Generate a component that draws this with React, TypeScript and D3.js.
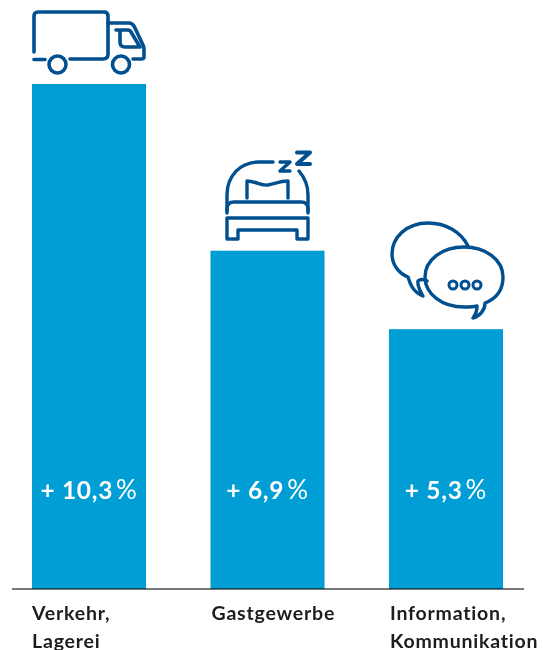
import React from "react";
import * as d3 from "d3";

const categories = ["Verkehr", "Gastgewerbe", "Information"];
const values = [10.3, 6.9, 5.3];
const valueLabels = ["+ 10,3", "+ 6,9", "+ 5,3"];
const categoryLines = [["Verkehr,", "Lagerei"], ["Gastgewerbe"], ["Information,", "Kommunikation"]];

const BAR = "#009ed5";
const ICON = "#004f8f";
const FONT = "Lato, 'Open Sans', sans-serif";

const x = d3.scaleBand<string>().domain(categories).range([32, 503]).paddingInner(0.361);
const y = d3.scaleLinear().domain([0, 10.3]).range([589, 84]);

function Truck() {
  return (
    <g fill="none" stroke={ICON} strokeWidth={3.6} strokeLinecap="round" strokeLinejoin="round">
      <path d="M34 52V16q0-4 4-4h66q4 0 4 4v38q0 5-5 5H70" />
      <path d="M34 59.500H45" />
      <path d="M108 23h21q3 0 5 3l9 19q1 2 1 5v7q0 2-3 2h-8" />
      <path d="M116 30h12q2 0 3 2l9 15h-15q-5 0-5-5V30" />
      <circle cx={57.500} cy={64.500} r={8.500} />
      <circle cx={121} cy={64.500} r={8.500} />
    </g>
  );
}

function Bed() {
  return (
    <g fill="none" stroke={ICON} strokeWidth={3.4} strokeLinecap="round" strokeLinejoin="round">
      <path d="M227 213V195C227 176 240 162 259 162H273" />
      <path d="M299 171C305 178 308 186 308 195V213" />
      <path d="M227 211V209Q227 202 234 202H301Q308 202 308 209V211" />
      <path d="M247 198V181C255 181 262 186 268 185C274 184 280 181 288 181V198" />
      <path d="M227 218H308V239H297V230H238V239H227Z" />
      <path d="M280 162H290L280 171H290" />
      <path d="M297 152.500H310L297 164H310" strokeWidth={4} />
    </g>
  );
}

function Chat() {
  return (
    <g fill="none" stroke={ICON} strokeWidth={3.4} strokeLinecap="round" strokeLinejoin="round">
      <path d="M468 246C461 232 446 223 428 223C407 223 392 237 392 254C392 264 398 273 408 277C410 284 413 292 423 296C420 291 417 286 418 281C420 279 424 279 427 281" />
      <path d="M485 303C498 298 503 288 503 277C503 260 486 247 464 247C442 247 425 260 425 277C425 294 442 307 464 307C468 307 473 307 477 306C477 310 476 314 473 318C480 316 485 310 485 303Z" />
      <circle cx={453} cy={285} r={4} strokeWidth={3} />
      <circle cx={465} cy={285} r={4} strokeWidth={3} />
      <circle cx={477} cy={285} r={4} strokeWidth={3} />
    </g>
  );
}

export default function App() {
  const baseline = y(0);
  return (
    <svg width={555} height={650} style={{ position: "absolute", left: 0, top: 0 }}>
      {categories.map((c, i) => (
        <rect key={c} x={x(c)} y={y(values[i])} width={x.bandwidth()} height={baseline - y(values[i])} fill={BAR} />
      ))}
      <line x1={12} x2={524} y1={baseline} y2={baseline} stroke="#777" strokeWidth={2} style={{ mixBlendMode: "multiply" }} />
      <Truck />
      <Bed />
      <Chat />
      {categories.map((c, i) => (
        <text key={c} x={x(c)! + x.bandwidth() / 2} y={499} textAnchor="middle" fill="#fff" fontFamily={FONT} fontSize={24.500} fontWeight={700} letterSpacing={0.7}>
          {valueLabels[i]}
          <tspan dx={3} fontWeight={400} fontSize={26}>%</tspan>
        </text>
      ))}
      {categories.map((c, i) =>
        categoryLines[i].map((line, j) => (
          <text key={line} x={x(c)! + (i === 0 ? 0 : 1)} y={620 + j * 28} fill="#1d1d1b" fontFamily={FONT} fontSize={19.500} fontWeight={700} letterSpacing={0.8}>
            {line}
          </text>
        ))
      )}
    </svg>
  );
}
